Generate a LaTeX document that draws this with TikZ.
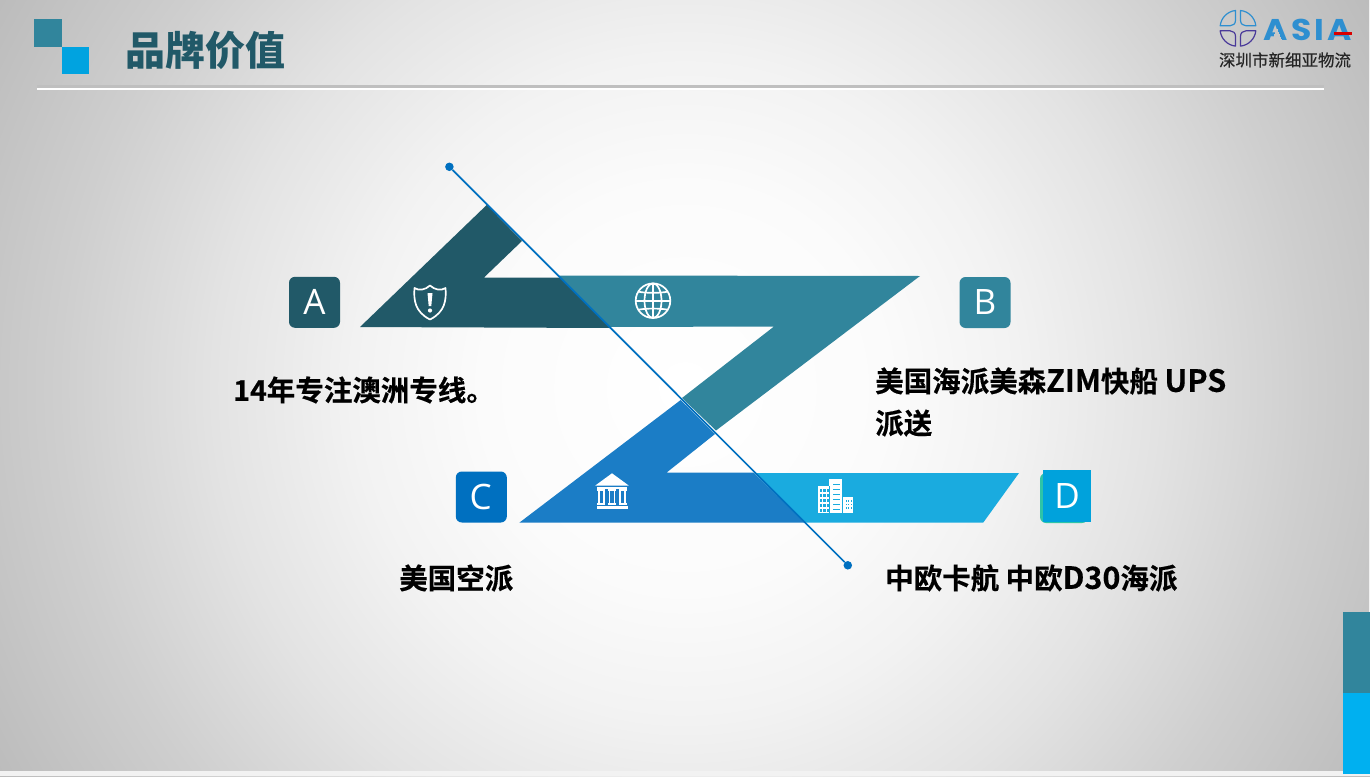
\documentclass[tikz,border=0pt]{standalone}
\usepackage{fontspec}
\setmainfont{Noto Sans CJK SC}
\newfontfamily\bodyfont[FakeBold=0.35]{Noto Sans CJK SC Bold}
\newfontfamily\namefont[FakeBold=0.3]{Noto Sans CJK SC}
\newfontfamily\latinbadge{Open Sans}
\newfontfamily\logofont{Poppins}
\definecolor{cDark}{HTML}{215968}
\definecolor{cTeal}{HTML}{31859C}
\definecolor{cBlue}{HTML}{1B7DC6}
\definecolor{cSky}{HTML}{1AABDF}
\definecolor{cLine}{HTML}{0070C0}
\definecolor{cSquare}{HTML}{00A3E0}
\definecolor{cD}{HTML}{00A2DC}
\definecolor{cGreen}{HTML}{2EC4A8}
\definecolor{cBar}{HTML}{00B0F0}
\definecolor{cLogoA}{HTML}{2E8FD0}
\definecolor{cLogoB}{HTML}{4A3A9A}
\pgfdeclareradialshading{bgshade}{\pgfpoint{0bp}{0bp}}{%
 rgb(0bp)=(1,1,1);
 rgb(12.5bp)=(0.985,0.985,0.985);
 rgb(20.6bp)=(0.95,0.95,0.95);
 rgb(29.4bp)=(0.89,0.89,0.89);
 rgb(38.8bp)=(0.81,0.81,0.81);
 rgb(50bp)=(0.73,0.73,0.73)}
\newcommand{\lat}[1]{{\fontsize{30.5}{42}\selectfont #1}}
\tikzset{
 badge/.style={rounded corners=6pt,minimum width=51pt,minimum height=51pt,inner sep=0pt,text=white,font=\latinbadge\fontsize{35}{35}\selectfont},
 bodytext/.style={anchor=west,inner sep=0pt,font=\bodyfont\fontsize{28.5}{42}\selectfont,text=black,align=left},
 dotnode/.style={circle,fill=cLine,minimum size=8.5pt,inner sep=0pt},
 iconline/.style={draw=white,line width=1.7pt},
 logoarc/.style={line width=1.2pt,line join=round},
}
\begin{document}
\begin{tikzpicture}[x=1pt,y=-1pt]
\useasboundingbox (0,0) rectangle (1370,776);
\begin{scope}
\clip (0,0) rectangle (1370,776);
\pgftransformshift{\pgfpoint{685pt}{-388pt}}
\pgftransformscale{16}
\pgflowlevelsynccm
\pgfuseshading{bgshade}
\end{scope}
\fill[white!90!gray] (0,771) rectangle (1370,776);
\fill[white!90!gray] (1369,0) rectangle (1370,612);
% header
\fill[cTeal] (34,19) rectangle (62,47);
\fill[cSquare] (62,47) rectangle (89,74);
\node[anchor=west,inner sep=0pt,text=cDark,font=\bfseries\fontsize{40}{40}\selectfont] (title) at (125,50) {品牌价值};
\fill[black!25] (37,85) rectangle (1324,88);
\fill[white] (37,88) rectangle (1324,90);
% logo
\foreach \c/\sx/\sy in {cLogoA/1/-1,cLogoA/-1/-1,cLogoB/1/1,cLogoB/-1/1}{
 \draw[\c,logoarc,shift={(1238,28.3)},xscale=\sx,yscale=\sy]
  (2.5,8) .. controls (2.5,4.5) and (5,2.5) .. (8,2.5) -- (17.8,2.5) .. controls (17,10.5) and (10.5,17) .. (2.5,17.8) -- cycle;
}
\begin{scope}[even odd rule]
\clip (1255,10) rectangle (1360,46) (1276.6,26.8) -- (1282,41) -- (1271.2,41) -- cycle;
\node[anchor=west,inner sep=0pt,text=cLogoA,font=\logofont\bfseries\fontsize{30}{30}\selectfont,xscale=1.1] (asia) at (1263.5,30) {A\kern2.8pt S\kern2.8pt I\kern2.8pt A};
\end{scope}
\fill[red!85!black] (1334,32) rectangle (1352,35);
\node[anchor=center,inner sep=0pt,text=black!85,font=\namefont\fontsize{16.5}{16.5}\selectfont] (cname) at (1285,60) {深圳市新细亚物流};
% chevrons
\fill[cTeal] (559,275.5) -- (920,276) -- (716,430.5) -- (682,398) -- (774,326.5) -- (610,327) -- cycle;
\fill[cDark] (360,327) -- (486.7,205) -- (522,241) -- (484,277.5) -- (559.5,277.5) -- (610,328) -- cycle;
\fill[cSky] (754,473) -- (1019,473) -- (983.3,522.5) -- (804,522.5) -- cycle;
\fill[cBlue] (519.3,522.7) -- (680.7,400) -- (715,434) -- (666.7,472.5) -- (753.3,472.5) -- (805,522.7) -- cycle;
% diagonal
\node[dotnode] (dotA) at (449.4,166.8) {};
\node[dotnode] (dotB) at (847.8,565.3) {};
\draw[cLine,line width=1.7pt] (dotA) -- (dotB);
% badges
\node[badge,fill=cDark] (A) at (314.5,302.3) {A};
\node[badge,fill=cTeal] (B) at (985,302.5) {B};
\node[badge,fill=cLine] (C) at (481.3,497) {\kern-1.5pt C};
\fill[cGreen,rounded corners=6pt] (1040,473) rectangle (1088,523);
\node[fill=cD,minimum width=48pt,minimum height=51.5pt,inner sep=0pt,text=white,font=\latinbadge\fontsize{35}{35}\selectfont] (D) at (1067,495.8) {D};
% shield
\draw[iconline,line join=round] (414.5,288) .. controls (419,291) and (425,290) .. (430,285.5) .. controls (435,290) and (441,291) .. (445.5,288) .. controls (446.5,300) and (445,312) .. (430,319.5) .. controls (415,312) and (413.5,300) .. (414.5,288) -- cycle;
\fill[white] (427.5,293) -- (432.5,293) -- (431.3,306) -- (428.7,306) -- cycle;
\fill[white] (430,310.5) circle (2.1);
% globe
\begin{scope}[shift={(653,300.7)}]
\draw[iconline] (0,0) circle (17.3);
\draw[iconline] (0,0) ellipse (8.5 and 17.3);
\draw[iconline] (0,-17.3) -- (0,17.3);
\draw[iconline] (-17.3,0) -- (17.3,0);
\draw[iconline] (-14.5,-9) .. controls (-7,-7.5) and (7,-7.5) .. (14.5,-9);
\draw[iconline] (-14.5,9) .. controls (-7,7.5) and (7,7.5) .. (14.5,9);
\end{scope}
% temple
\fill[white] (612,473.3) -- (628.7,485.5) -- (595.3,485.5) -- cycle;
\fill[white] (597,486.8) rectangle (627,488.6);
\foreach \x in {597,607.8,618.6}{
 \fill[white] (\x,488.6) rectangle ++(8.4,2);
 \fill[white] (\x,502.6) rectangle ++(8.4,2);
 \fill[white] (\x+0.8,490) rectangle ++(1.8,13);
 \fill[white] (\x+5.8,490) rectangle ++(1.8,13);
}
\fill[white] (596.7,505.7) rectangle (628,509);
% buildings
\fill[white] (818,486) rectangle (829,513);
\fill[white] (829,479) rectangle (842.3,513);
\fill[white] (843.3,496.7) rectangle (853.3,513);
\foreach \x in {819.8,823.3,826.6}{
 \foreach \y in {489,494,499,504,509}{
  \fill[cSky] (\x,\y) rectangle ++(2.2,3);
 }
}
\fill[cSky] (829,486) rectangle (829.8,513);
\foreach \y in {484,489,494,499,504,509}{
 \fill[cSky] (833,\y) rectangle ++(7,1.4);
}
\foreach \x in {845.5,848,850.5}{
 \foreach \y in {500,503.5,507}{
  \fill[cSky] (\x,\y) rectangle ++(1.4,1.8);
 }
}
% texts
\node[bodytext] (tA) at (233,390) {14年专注澳洲专线。};
\node[bodytext] (tB) at (875,402) {美国海派美森\lat{ZIM}快船 \lat{UPS}\\派送};
\node[bodytext] (tC) at (399,578) {美国空派};
\node[bodytext] (tD) at (885,578) {中欧卡航 中欧\lat{D30}海派};
% side bar
\fill[cTeal] (1343,612) rectangle (1370,693);
\fill[cBar] (1343,693) rectangle (1370,774);
\end{tikzpicture}
\end{document}
